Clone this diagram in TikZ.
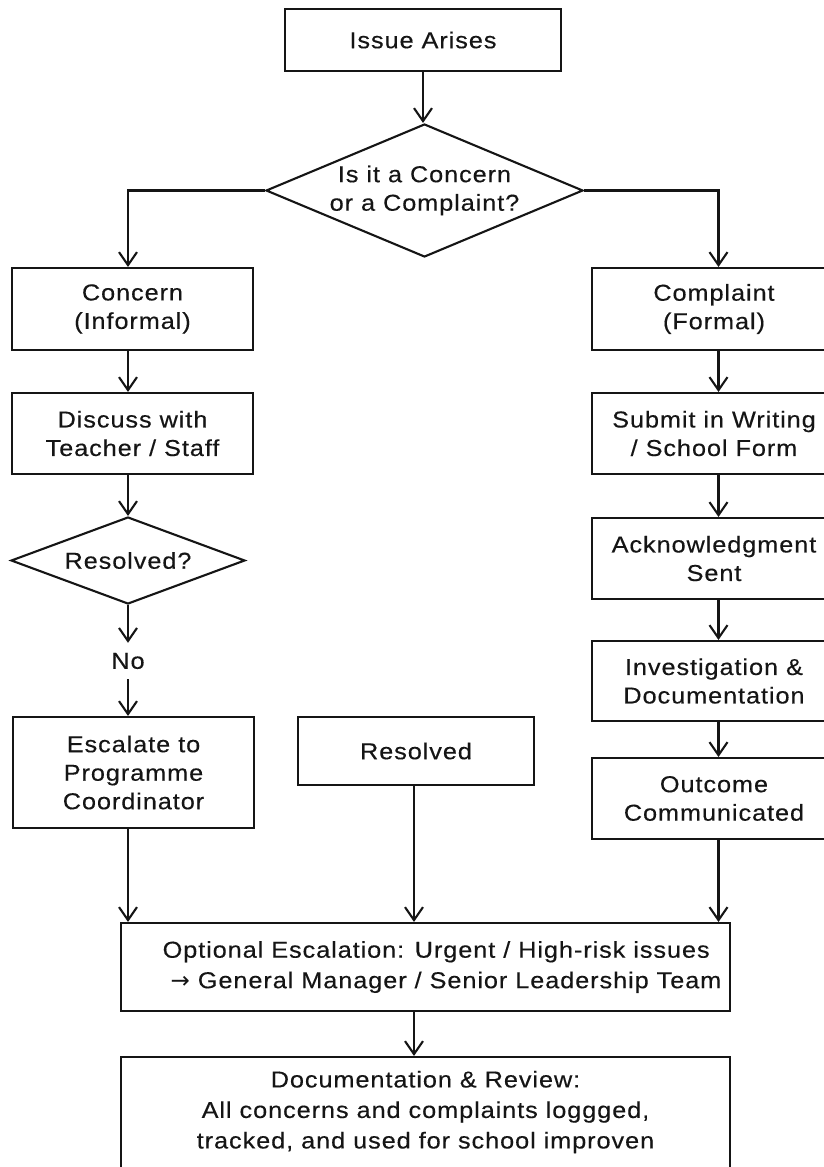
\documentclass[tikz,border=0pt]{standalone}
\usepackage{fontspec}
\setmainfont{Liberation Sans}[FakeStretch=1.1, LetterSpace=4, FakeBold=0.3]
\newfontfamily\symfont{DejaVu Sans}
\usetikzlibrary{shapes.geometric,arrows.meta}
\definecolor{ink}{HTML}{151515}
\tikzset{
  every node/.style={font=\fontsize{23pt}{28.5pt}\selectfont, text=ink},
  box/.style={draw=ink, line width=2.1pt, rectangle, align=center, inner sep=0pt},
  dia/.style={draw=ink, line width=2.1pt, diamond, inner sep=0pt},
  plain/.style={inner sep=0pt, minimum height=36pt},
  arr/.style={draw=ink, line width=2.1pt, -{Straight Barb[length=13pt,width=18pt,line width=2.1pt]}},
  wide/.style={font=\fontsize{23pt}{30.5pt}\selectfont}
}
\begin{document}
\begin{tikzpicture}[x=1pt,y=-1pt]
\clip (0,0) rectangle (824,1167);
\fill[white] (0,0) rectangle (824,1167);

% top
\node[box, minimum width=276pt, minimum height=62pt] (issue) at (423,40) {Issue Arises};
\node[dia, minimum width=317pt, minimum height=133pt,
      label={[align=center]center:{Is it a Concern\\or a Complaint?}}] (q1) at (424.5,190.5) {};

% left column
\node[box, minimum width=241pt, minimum height=82pt] (concern) at (132.5,309) {Concern\\(Informal)};
\node[box, minimum width=241pt, minimum height=81pt] (discuss) at (132.5,433.5) {Discuss with\\Teacher / Staff};
\node[dia, minimum width=234pt, minimum height=87pt,
      label={center:Resolved?}] (res) at (128,560.5) {};
\node[plain] (no) at (128,661) {No};
\node[box, minimum width=241pt, minimum height=111pt] (esc) at (133.5,772.5) {Escalate to\\Programme\\Coordinator};

% middle
\node[box, minimum width=236pt, minimum height=68pt] (resolved) at (416,751) {Resolved};

% right column
\node[box, minimum width=244pt, minimum height=82pt] (complaint) at (714,309) {Complaint\\(Formal)};
\node[box, minimum width=244pt, minimum height=81pt] (submit) at (714,433.5) {Submit in Writing\\/ School Form};
\node[box, minimum width=244pt, minimum height=81pt] (ack) at (714,558.5) {Acknowledgment\\Sent};
\node[box, minimum width=244pt, minimum height=80pt] (inv) at (714,681) {Investigation \&\\Documentation};
\node[box, minimum width=244pt, minimum height=81pt] (out) at (714,798.5) {Outcome\\Communicated};

% bottom
\node[box, minimum width=609pt, minimum height=88pt,
      label={[wide, align=left, xshift=16.5pt]center:{Optional Escalation: Urgent / High-risk issues\\\hspace*{8pt}{\symfont →} General Manager / Senior Leadership Team}}] (opt) at (425.5,967) {};
\node[box, minimum width=609pt, minimum height=143pt,
      label={[wide, align=center, yshift=16.5pt]center:{Documentation \& Review:\\All concerns and complaints loggged,\\tracked, and used for school improven}}] (doc) at (425.5,1128.5) {};

% connectors
\draw[arr] (issue.south) -- (issue.south |- q1.north);
\draw[arr] (q1.west) -| ([xshift=-4.5pt]concern.north);
\draw[arr] (q1.east) -| ([xshift=4.5pt]complaint.north);

\draw[arr] ([xshift=-4.5pt]concern.south) -- ([xshift=-4.5pt]discuss.north);
\draw[arr] ([xshift=-4.5pt]discuss.south) -- (res.north);
\draw[arr] (res.south) -- (no.north);
\draw[arr] (no.south) -- ([xshift=-5.5pt]esc.north);

\draw[arr] ([xshift=4.5pt]complaint.south) -- ([xshift=4.5pt]submit.north);
\draw[arr] ([xshift=4.5pt]submit.south) -- ([xshift=4.5pt]ack.north);
\draw[arr] ([xshift=4.5pt]ack.south) -- ([xshift=4.5pt]inv.north);
\draw[arr] ([xshift=4.5pt]inv.south) -- ([xshift=4.5pt]out.north);

\draw[arr] ([xshift=-5.5pt]esc.south) -- ([xshift=-5.5pt]esc.south |- opt.north);
\draw[arr] ([xshift=-2pt]resolved.south) -- ([xshift=-2pt]resolved.south |- opt.north);
\draw[arr] ([xshift=4.5pt]out.south) -- ([xshift=4.5pt]out.south |- opt.north);

\draw[arr] ([xshift=-11.5pt]opt.south) -- ([xshift=-11.5pt]doc.north);
\end{tikzpicture}
\end{document}
